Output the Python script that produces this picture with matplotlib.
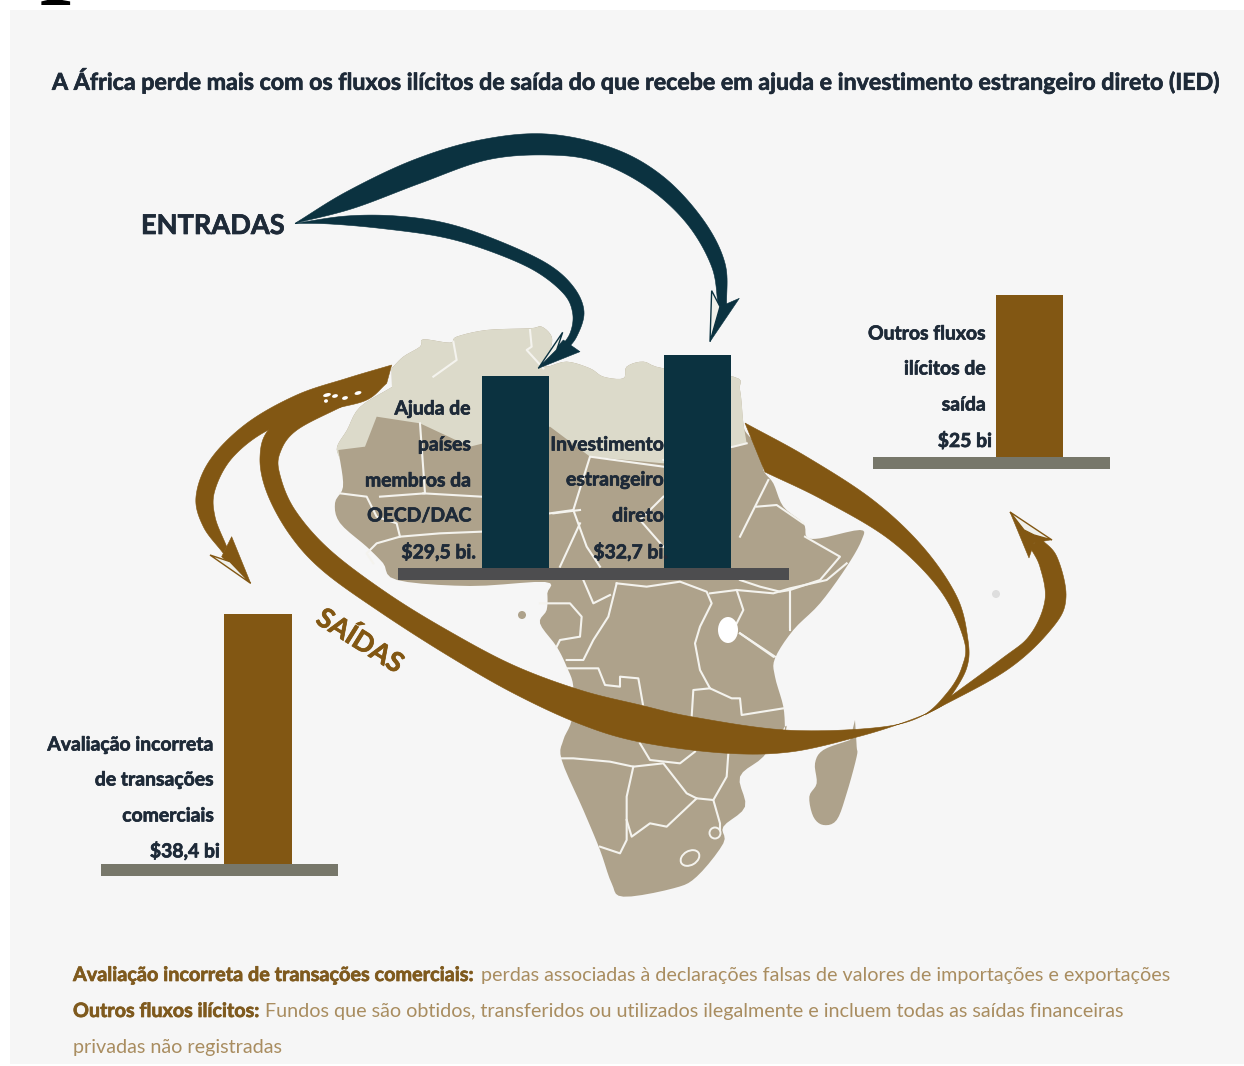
import numpy as np
import matplotlib
matplotlib.use("Agg")
import matplotlib.pyplot as plt
import matplotlib.patheffects as pe
from matplotlib.patches import Polygon, Rectangle, Ellipse

FONT = 'Lato'

# ---- data
inflow_labels = ["Ajuda de\npaíses\nmembros da\nOECD/DAC\n$29,5 bi.", "Investimento\nestrangeiro\ndireto\n$32,7 bi."]
inflow_values = [29.5, 32.7]
outflow_labels = ["Avaliação incorreta\nde transações\ncomerciais\n$38,4 bi", "Outros fluxos\nilícitos de\nsaída\n$25 bi"]
outflow_values = [38.4, 25.0]
title = "A África perde mais com os fluxos ilícitos de saída do que recebe em ajuda e investimento estrangeiro direto (IED)"

DARK, BROWN = '#0b3240', '#825713'
LAND, SAHARA = '#aea28b', '#dcdaca'
PX_PER_UNIT = 6.5

fig = plt.figure(figsize=(12.44, 10.66), dpi=100, facecolor='white')
ax = fig.add_axes([0, 0, 1, 1])
ax.set_xlim(0, 1244); ax.set_ylim(1066, 0); ax.axis('off')
ax.add_patch(Rectangle((10, 10), 1234, 1054, fc='#f6f6f6', ec='none', zorder=0))


def smooth(pts, n=14):
    """Catmull-Rom through an open list of points."""
    p = np.array(pts, float)
    p = np.vstack([2*p[0]-p[1], p, 2*p[-1]-p[-2]])
    out = []
    for i in range(1, len(p)-2):
        t = np.linspace(0, 1, n, endpoint=False)[:, None]
        a, b, c, d = p[i-1], p[i], p[i+1], p[i+2]
        out.append(0.5*(2*b+(c-a)*t+(2*a-5*b+4*c-d)*t**2+(3*b-a-3*c+d)*t**3))
    out.append(p[-2][None, :])
    return np.vstack(out)


def z(pts, ox, oy):
    return [(ox+x/3, oy+y/3) for x, y in pts]


# ---- map
north = z([(335,745),(370,710),(420,680),(430,658),(510,668),(530,650),(620,630),(750,625),(785,620),(815,650),(810,690),(790,720),(800,740),(860,725),(930,745),(970,770),(1030,775),(1040,740),(1090,725),(1150,745)],280,120)
east = (z([(1240,290),(1260,330),(1270,430)],320,280)
        + z([(20,100),(65,150),(70,210),(100,250),(130,320),(190,370),(200,410),(240,415),(360,390),(365,420),(320,500),(240,610),(160,690),(105,775),(105,830),(130,920),(135,990)],740,400)
        + z([(735,500),(670,590),(600,650),(615,740),(550,800),(550,850),(470,950),(400,985),(250,1010),(215,970),(180,870),(130,750),(65,600),(70,540),(95,480),(100,380),(80,320),(50,260),(0,190),(20,150),(22,100)],540,560))
west = [(545,582),(470,586),(397,580),(383,563),(367,547),(340,523),(335,503),(343,487),(340,460),(337,447),(347,430),(360,407),(392,387)]
africa = smooth(north + east + west, 5)
ax.add_patch(Polygon(africa, closed=True, fc=LAND, ec='none', zorder=1))
sahara_south = z([(1280,490),(1030,550),(810,530),(690,440),(450,500),(300,430),(170,410),(135,500),(55,510)],320,280)
sahara = np.vstack([smooth(north + z([(1240,290),(1260,330),(1270,430)],320,280), 5), sahara_south,
                    smooth([(340,460),(337,447),(347,430),(360,407),(392,387)], 5)])
ax.add_patch(Polygon(sahara, closed=True, fc=SAHARA, ec='none', zorder=1.1))
madagascar = smooth(z([(945,480),(950,560),(950,590),(920,700),(890,780),(850,795),(820,770),(808,710),(830,670),(825,610),(850,570),(930,540)],540,560), 5)
ax.add_patch(Polygon(madagascar, closed=True, fc=LAND, ec='none', zorder=1))

b3 = [
    [(230,70),(320,80),(420,65),(500,95),(515,130),(480,200),(465,250),(480,330),(510,385),(575,415),(600,415),(605,465),(730,445)],
    [(510,100),(590,90),(610,150),(590,190)],
    [(590,90),(700,100),(750,85),(860,60),(920,10)],
    [(750,90),(750,210)],
    [(600,220),(700,290)],
    [(230,70),(205,170),(160,240),(130,300),(80,300)],
    [(80,325),(175,325),(195,375),(240,380),(240,350),(295,355),(310,440)],
    [(510,385),(460,390),(455,470)],
    [(300,550),(330,600),(420,610),(465,575)],
    [(65,595),(100,595),(210,605),(280,620),(370,610),(440,700),(470,715),(520,720),(560,650),(565,580)],
    [(280,620),(260,710),(260,840),(240,880),(180,860)],
    [(260,780),(275,830),(330,790),(380,800),(470,715)],
    [(520,720),(540,790),(540,815)],
    [(0,130),(90,130),(125,170),(120,230),(60,240),(50,260)],
    [(130,60),(160,130),(210,105)],
]
bw = [
    [(480,430),(560,440),(590,500),(650,520),(660,560),(590,580),(560,610),(580,640)],
    [(720,220),(735,430),(600,440)],
    [(730,430),(905,440)],
    [(660,560),(780,550),(905,545)],
    [(1120,490),(1200,480)],
    [(1200,520),(1140,650)],
]
b2 = [
    [(690,700),(760,690),(810,530),(1030,560)],
    [(760,690),(800,800),(840,860)],
    [(1030,650),(960,720),(1030,800)],
    [(1030,540),(1240,500),(1280,490)],
]
b1 = [
    [(520,665),(530,720),(460,770)],
    [(750,630),(755,680),(740,690),(790,745)],
]
b4 = [
    [(85,240),(45,320),(0,410)],
    [(50,320),(110,315),(190,370)],
    [(195,410),(300,470),(240,540),(150,570),(120,575),(60,560),(0,540)],
    [(150,580),(150,680)],
    [(0,700),(105,770)],
]
for group, ox, oy in ((b3, 540, 560), (bw, 180, 350), (b2, 320, 280), (b1, 280, 120), (b4, 740, 400)):
    for line in group:
        xy = np.array(z(line, ox, oy))
        ax.plot(xy[:, 0], xy[:, 1], color='#f4f3ee', lw=1.5, zorder=1.5, solid_joinstyle='round')
ax.add_patch(Ellipse((728, 630), 20, 26, fc='white', ec='none', zorder=1.6))
ax.add_patch(Ellipse((715, 833), 11, 11, fc=LAND, ec='#f4f3ee', lw=1.4, zorder=1.6))
ax.add_patch(Ellipse((690, 858), 20, 14, angle=-30, fc=LAND, ec='#f4f3ee', lw=1.4, zorder=1.6))
ax.add_patch(Ellipse((996, 594), 8, 8, fc='#dedede', ec='none', zorder=1.6))
ax.add_patch(Ellipse((522, 615), 8, 8, fc=LAND, ec='none', zorder=1.6))

# ---- sweeping arrows
def band(edge_a, edge_b, color=BROWN):
    pts = np.vstack([smooth(edge_a), smooth(edge_b)])
    ax.add_patch(Polygon(pts, closed=True, fc=color, ec=color, lw=0.4, zorder=3))

def hollow(pts, color):
    ax.add_patch(Polygon(pts, closed=True, fc='#f0f0ea', ec=color, lw=1, zorder=3.2))

def solid(pts, color):
    ax.add_patch(Polygon(pts, closed=True, fc=color, ec=color, lw=0.4, zorder=3.1))

# dark: to FDI bar
band(z([(45,310),(200,215),(400,120),(600,60),(800,42),(1000,85),(1150,170),(1270,300),(1335,430),(1340,560)],280,120),
     z([(1315,560),(1295,440),(1220,310),(1100,200),(950,125),(800,105),(620,120),(420,190),(220,265),(45,310)],280,120), color=DARK)
solid(z([(1378,535),(1290,665),(1320,560)],280,120), DARK)
hollow(z([(1295,512),(1290,665),(1320,560)],280,120), DARK)
# dark: to aid bar
band(z([(45,310),(200,288),(350,288),(500,310),(650,360),(800,430),(880,500),(912,575),(890,650),(850,700)],280,120),
     z([(835,690),(870,640),(878,580),(850,520),(760,450),(620,390),(480,350),(300,325),(150,312),(45,310)],280,120), color=DARK)
solid(z([(900,695),(775,745),(850,660)],280,120), DARK)
hollow(z([(848,637),(775,745),(830,690)],280,120), DARK)

# brown: left arrow
band(z([(635,45),(500,85),(350,135),(200,220),(90,330),(48,440),(70,530),(130,610)],180,350),
     z([(140,590),(105,500),(105,420),(160,320),(275,235),(450,180),(560,150),(620,100)],180,350))
solid(z([(155,560),(212,700),(125,620)],180,350), BROWN)
hollow(z([(90,615),(212,700),(150,635)],180,350), BROWN)
# brown: ring
band([(745,423),(807,457),(873,500),(923,547),(957,597),(968,640),(967,667),(953,693),(940,707),(905,722),(857,737),(790,752),(723,753),(640,742),(580,724),(513,693),(447,655),(380,612),(323,571),(290,535),(267,493),(260,457),(270,428),(310,400)],
     [(345,405),(297,430),(280,453),(280,475),(295,510),(330,550),(387,593),(447,630),(513,665),(580,690),(640,705),(693,717),(785,730),(873,728),(920,717),(947,693),(962,667),(964,640),(940,590),(890,540),(823,500),(765,472)])
# brown: right arrow
band([(925,715),(1007,670),(1053,627),(1066,597),(1057,557),(1040,538)],
     [(1030,547),(1040,567),(1045,600),(1030,635),(1000,660),(925,715)])
solid([(1010,512),(1029,558),(1034,543),(1050,540)], BROWN)
hollow([(1010,512),(1052,540),(1034,535),(1024,530)], BROWN)
for cx, cy, w in ((327,395,8),(335,396,6),(345,398,6),(358,393,7),(326,401,4)):
    ax.add_patch(Ellipse((cx, cy), w, 3.5, angle=-15, fc='white', ec='none', zorder=3.5))

# ---- bars
ax.bar([515.5, 697.5], [-v*PX_PER_UNIT for v in inflow_values], width=67, bottom=568, color=DARK, zorder=4)
ax.bar(258, -outflow_values[0]*PX_PER_UNIT, width=68, bottom=864, color=BROWN, zorder=4)
ax.bar(1029.5, -outflow_values[1]*PX_PER_UNIT, width=67, bottom=457, color=BROWN, zorder=4)
ax.add_patch(Rectangle((398, 568), 391, 12, fc='#4d4d4f', ec='none', zorder=4))
ax.add_patch(Rectangle((101, 864), 237, 12, fc='#77776a', ec='none', zorder=4))
ax.add_patch(Rectangle((873, 457), 237, 11.5, fc='#77776a', ec='none', zorder=4))

# ---- text
renderer = fig.canvas.get_renderer()
TC = '#1e2a38'

def size_for(s, width, weight='bold'):
    t = ax.text(0, 0, s, family=FONT, weight=weight, fontsize=16)
    w = t.get_window_extent(renderer).width
    t.remove()
    return 16*width/w

def heavy(t, color, lw=0.5):
    t.set_path_effects([pe.withStroke(linewidth=lw, foreground=color)])

def fit(x0, x1, y, s, color=TC, weight='bold'):
    t = ax.text(x0, y, s, family=FONT, weight=weight, color=color, va='center', ha='left', zorder=6,
                fontsize=size_for(s, x1-x0, weight))
    if weight == 'bold':
        heavy(t, color)

LABEL_SIZE = size_for("Outros fluxos", 118)

def right(x, y, s):
    t = ax.text(x, y + 1, s, family=FONT, weight='bold', color=TC, fontsize=LABEL_SIZE, va='center', ha='right', zorder=6)
    heavy(t, TC)

fit(52, 1224, 81, title)
fit(141, 285, 226, "ENTRADAS")
heavy(ax.text(360, 641, "SAÍDAS", family=FONT, weight='bold', color=BROWN, fontsize=size_for("SAÍDAS", 97), rotation=-32,
              rotation_mode='anchor', ha='center', va='center', zorder=6), BROWN)

ax.text(40, -18, "p", family='Liberation Serif', weight='bold', fontsize=80, color='black', va='baseline', ha='left', zorder=6)

for y, s in zip((408,444,480,515,551), inflow_labels[0].split('\n')):
    right(476 if s.startswith('$') else 471, y, s)
for y, s in zip((444,479,515,551), inflow_labels[1].split('\n')):
    right(668 if s.startswith('$') else 664, y, s)
for y, s in zip((744,779,815,850), outflow_labels[0].split('\n')):
    right(220 if s.startswith('$') else 214, y, s)
for y, s in zip((333,368,404,440), outflow_labels[1].split('\n')):
    right(992 if s.startswith('$') else 986, y, s)

B1, B2 = '#7f5a1e', '#a98d60'
fit(73, 475, 975, "Avaliação incorreta de transações comerciais:", color=B1)
fit(481, 1172, 975, "perdas associadas à declarações falsas de valores de importações e exportações", color=B2, weight='normal')
fit(73, 260, 1011, "Outros fluxos ilícitos:", color=B1)
fit(265, 1128, 1011, "Fundos que são obtidos, transferidos ou utilizados ilegalmente e incluem todas as saídas financeiras", color=B2, weight='normal')
fit(73, 284, 1047, "privadas não registradas", color=B2, weight='normal')

fig.savefig('out.png', dpi=100, facecolor='white')
